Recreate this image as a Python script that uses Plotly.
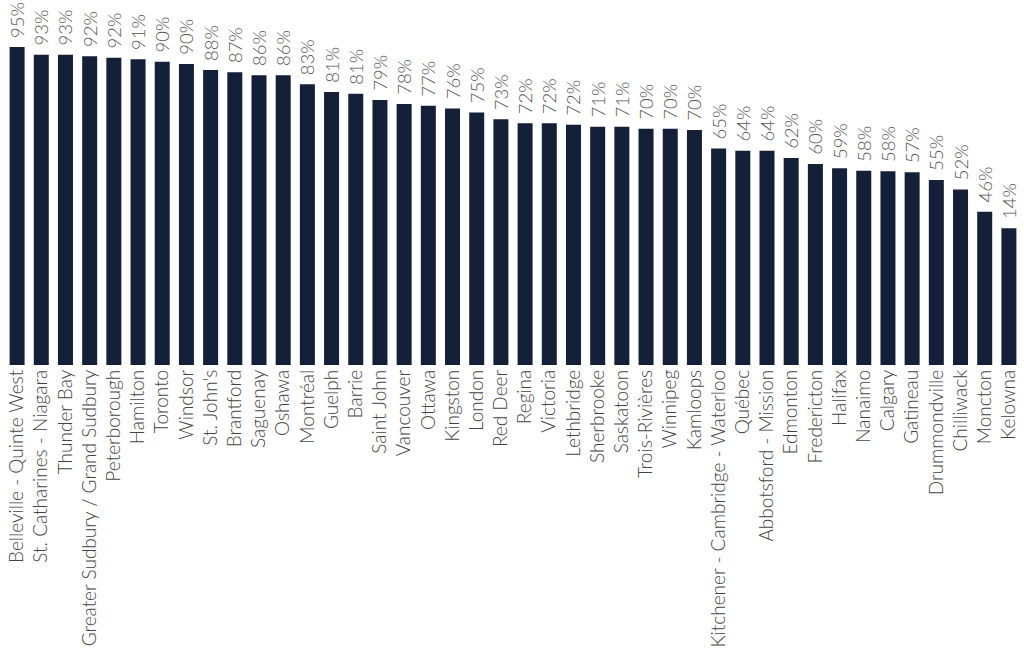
import plotly.graph_objects as go

# city names in order
cities = ["Belleville - Quinte West", "St. Catharines - Niagara", "Thunder Bay",
          "Greater Sudbury / Grand Sudbury", "Peterborough", "Hamilton", "Toronto",
          "Windsor", "St. John's", "Brantford", "Saguenay", "Oshawa", "Montréal",
          "Guelph", "Barrie", "Saint John", "Vancouver", "Ottawa", "Kingston",
          "London", "Red Deer", "Regina", "Victoria", "Lethbridge", "Sherbrooke",
          "Saskatoon", "Trois-Rivières", "Winnipeg", "Kamloops",
          "Kitchener - Cambridge - Waterloo", "Québec", "Abbotsford - Mission",
          "Edmonton", "Fredericton", "Halifax", "Nanaimo", "Calgary", "Gatineau",
          "Drummondville", "Chilliwack", "Moncton", "Kelowna"]

# bar heights (index)
scores = [87.1, 85.0, 85.0, 84.6, 84.2, 83.8, 83.1, 82.5, 80.8, 80.2, 79.4, 79.4,
          76.9, 74.8, 74.3, 72.6, 71.5, 71.0, 70.3, 69.2, 67.3, 66.2, 66.2, 65.8,
          65.3, 65.3, 64.7, 64.7, 64.4, 59.3, 58.7, 58.7, 56.7, 55.1, 53.9, 53.2,
          53.1, 52.8, 50.7, 48.1, 42.0, 37.5]

# percentage labels shown above bars
pct = [95, 93, 93, 92, 92, 91, 90, 90, 88, 87, 86, 86, 83, 81, 81, 79, 78, 77, 76,
       75, 73, 72, 72, 72, 71, 71, 70, 70, 70, 65, 64, 64, 62, 60, 59, 58, 58, 57,
       55, 52, 46, 14]

# a space + hair space pushes the label a bit off the bar top
labels = [" \u200a" + str(p) + "%" for p in pct]

fig = go.Figure()
fig.add_trace(go.Bar(
    x=cities, y=scores,
    marker=dict(color="#141f38", line=dict(width=0)),
    text=labels, textposition="outside", textangle=-90,
    textfont=dict(family="Lato", size=18.5, color="#555555", weight=300),
    cliponaxis=False,
))

fig.update_layout(
    width=1024, height=652,
    margin=dict(l=5, r=3, t=0, b=287),
    paper_bgcolor="white", plot_bgcolor="white",
    bargap=0.38, showlegend=False,
    xaxis=dict(tickangle=-90, showgrid=False, showline=False, zeroline=False,
               automargin=False, ticks="", ticklen=0,
               tickfont=dict(family="Lato", size=19, color="#444444", weight=300)),
    yaxis=dict(range=[0, 100], visible=False, showgrid=False, automargin=False),
    uniformtext=dict(minsize=18, mode="show"),
)

# drop the browser's default body margin so the figure sits at the page corner
fig.write_html("out.html", config={"displayModeBar": False},
               post_script="document.body.style.margin='0';")
